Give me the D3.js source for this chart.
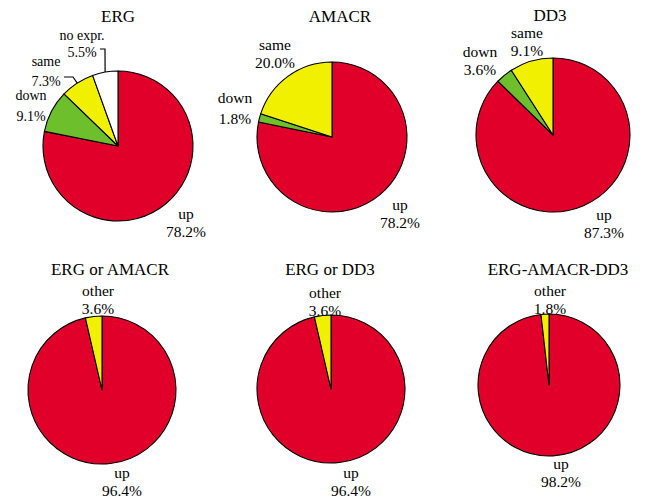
<!DOCTYPE html>
<html>
<head>
<meta charset="utf-8">
<script src="https://cdn.jsdelivr.net/npm/d3@7"></script>
<style>
  body { margin: 0; background: #fff; }
</style>
</head>
<body>
<div id="chart"></div>
<script>
// chart data
const titles = ['ERG', 'AMACR', 'DD3', 'ERG or AMACR', 'ERG or DD3', 'ERG-AMACR-DD3'];
const ergNames = ['up', 'down', 'same', 'no expr.'];
const ergValues = [78.2, 9.1, 7.3, 5.5];
const amacrNames = ['up', 'down', 'same'];
const amacrValues = [78.2, 1.8, 20.0];
const dd3Names = ['up', 'down', 'same'];
const dd3Values = [87.3, 3.6, 9.1];
const comboNames = ['up', 'other'];
const ergOrAmacrValues = [96.4, 3.6];
const ergOrDd3Values = [96.4, 3.6];
const allThreeValues = [98.2, 1.8];

const colors = {
  'up': '#e0002a',
  'down': '#6dbf2b',
  'same': '#f0f000',
  'other': '#f0f000',
  'no expr.': '#ffffff'
};

const fontFamily = "'Liberation Serif', 'Times New Roman', Tinos, 'DejaVu Serif', 'Liberation Sans', serif";

// layout: pie centre, radius, label anchors relative to centre [dx, dyName, dyValue]
const layout = [
  { cx: 118, cy: 146, r: 75, titleX: 118, titleY: 22, small: 14,
    labels: { 'up': [68, 73, 91], 'down': [-87, -46, -25], 'same': [-72, -80, -60], 'no expr.': [-36, -106, -89] },
    leaders: { 'same': [[-54, -69], [-45, -69]], 'no expr.': [[-18, -97], [-13, -97]] } },
  { cx: 332, cy: 137, r: 75, titleX: 340, titleY: 22,
    labels: { 'up': [68, 73, 91], 'down': [-97, -34, -13], 'same': [-57, -87, -69] } },
  { cx: 553, cy: 135, r: 77, titleX: 550, titleY: 21,
    labels: { 'up': [51, 85, 103], 'down': [-73, -78, -60], 'same': [-26, -97, -79] } },
  { cx: 102, cy: 390, r: 74, titleX: 110, titleY: 275,
    labels: { 'up': [20, 88, 106], 'other': [-4, -94, -76] } },
  { cx: 331, cy: 389, r: 74, titleX: 330, titleY: 275,
    labels: { 'up': [20, 89, 107], 'other': [-6, -91, -73] } },
  { cx: 549, cy: 385, r: 71, titleX: 558, titleY: 275,
    labels: { 'up': [12, 84, 102], 'other': [1, -89, -71] } }
];

const pies = [
  { names: ergNames, values: ergValues },
  { names: amacrNames, values: amacrValues },
  { names: dd3Names, values: dd3Values },
  { names: comboNames, values: ergOrAmacrValues },
  { names: comboNames, values: ergOrDd3Values },
  { names: comboNames, values: allThreeValues }
];

const width = 645;
const height = 498;
const fmt = d3.format('.1f');

const svg = d3.select('#chart').append('svg')
  .attr('width', width)
  .attr('height', height)
  .attr('font-family', fontFamily);

const pie = d3.pie().sort(null).value(d => d.value);

pies.forEach(function(p, i) {
  const lay = layout[i];
  const data = p.names.map((n, j) => ({ name: n, value: p.values[j] }));
  const arcs = pie(data);
  const arc = d3.arc().innerRadius(0).outerRadius(lay.r);

  const g = svg.append('g').attr('transform', `translate(${lay.cx}, ${lay.cy})`);

  g.selectAll('path')
    .data(arcs)
    .enter()
    .append('path')
    .attr('d', arc)
    .attr('fill', d => colors[d.data.name])
    .attr('stroke', '#000')
    .attr('stroke-width', 1.1)
    .attr('stroke-linejoin', 'round');

  // leader lines from label to slice edge
  if (lay.leaders) {
    arcs.forEach(function(a) {
      const pts = lay.leaders[a.data.name];
      if (!pts) return;
      const mid = (a.startAngle + a.endAngle) / 2;
      const edge = [lay.r * Math.sin(mid), -lay.r * Math.cos(mid)];
      g.append('path')
        .attr('d', d3.line()(pts.concat([edge])))
        .attr('fill', 'none')
        .attr('stroke', '#000')
        .attr('stroke-width', 1.2);
    });
  }

  arcs.forEach(function(a) {
    const pos = lay.labels[a.data.name];
    const size = (a.data.name === 'up' || !lay.small) ? 15.5 : lay.small;
    g.append('text')
      .attr('x', pos[0])
      .attr('y', pos[1])
      .attr('text-anchor', 'middle')
      .attr('font-size', size + 'px')
      .attr('fill', '#000')
      .text(a.data.name);
    g.append('text')
      .attr('x', pos[0])
      .attr('y', pos[2])
      .attr('text-anchor', 'middle')
      .attr('font-size', size + 'px')
      .attr('fill', '#000')
      .text(fmt(a.data.value) + '%');
  });

  svg.append('text')
    .attr('x', lay.titleX)
    .attr('y', lay.titleY)
    .attr('text-anchor', 'middle')
    .attr('font-size', '17px')
    .attr('fill', '#000')
    .text(titles[i]);
});
</script>
</body>
</html>
